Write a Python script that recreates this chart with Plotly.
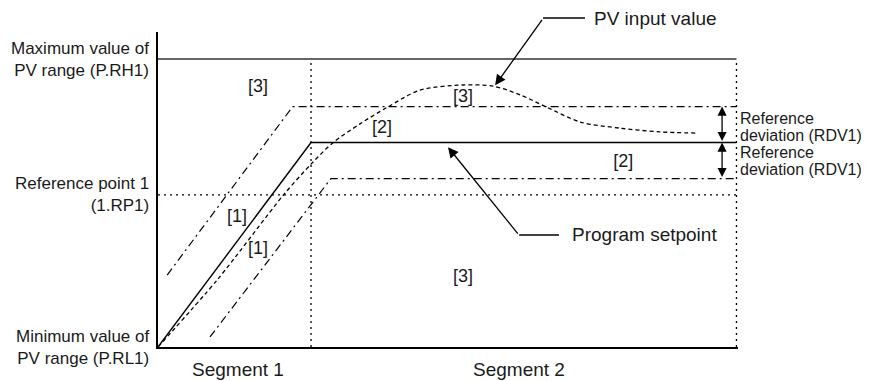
import plotly.graph_objects as go

# time axis (minutes, arbitrary) and PV axis (% of range)
SEGMENT_BOUNDS = [10, 37.8]          # end of segment 1, end of segment 2
SEGMENT_NAMES = ["Segment 1", "Segment 2"]
SEGMENT_CENTERS = [5.2, 23.6]

PV_MAX = 100                          # P.RH1
REF_POINT = 52.8                      # 1.RP1

# program setpoint
SP_T = [0, 10, 37.8]
SP_V = [0, 71, 71]

# setpoint + reference deviation
UPPER_T = [0.6, 8.8, 37.8]
UPPER_V = [25, 83.5, 83.5]

# setpoint - reference deviation
LOWER_T = [3.4, 11.3, 37.8]
LOWER_V = [3.5, 58.5, 58.5]

# PV input value
PV_T = [0, 3.9, 8.2, 10, 11.4, 13.2, 15.0, 17.1, 19.9, 21.9, 23.7, 25.4, 27.6, 30.2, 32.8, 35.2]
PV_V = [0, 23.5, 52.8, 63.5, 70.8, 77.5, 83.3, 89.2, 91.0, 90.6, 87.5, 83.3, 78.1, 76.0, 74.7, 74.3]

# region labels
REGION_TEXT = ["[3]", "[3]", "[2]", "[2]", "[1]", "[1]", "[3]"]
REGION_T = [6.54, 19.93, 14.64, 30.4, 5.16, 6.54, 19.93]
REGION_V = [90.3, 86.8, 76.0, 64.2, 45.1, 33.7, 24.3]

# reference deviation text lines
RDV_LINES = ["Reference", "deviation (RDV1)", "Reference", "deviation (RDV1)"]
RDV_LINE_V = [79.2, 73.3, 67.4, 61.8]

FONT = "Liberation Sans, Arial, sans-serif"
DOT = "2px,4px"
DASHDOT = "8px,4px,2px,4px"

fig = go.Figure()

fig.add_trace(go.Scatter(x=[0, SEGMENT_BOUNDS[1]], y=[PV_MAX, PV_MAX], mode="lines",
                         line=dict(color="#333333", width=1.6)))
fig.add_trace(go.Scatter(x=[0, SEGMENT_BOUNDS[1]], y=[REF_POINT, REF_POINT], mode="lines",
                         line=dict(color="black", width=1.3, dash=DOT)))
for b in SEGMENT_BOUNDS:
    fig.add_trace(go.Scatter(x=[b, b], y=[0, PV_MAX], mode="lines",
                             line=dict(color="black", width=1.3, dash=DOT)))

fig.add_trace(go.Scatter(x=UPPER_T, y=UPPER_V, mode="lines",
                         line=dict(color="black", width=1.2, dash=DASHDOT)))
fig.add_trace(go.Scatter(x=LOWER_T, y=LOWER_V, mode="lines",
                         line=dict(color="black", width=1.2, dash=DASHDOT)))
fig.add_trace(go.Scatter(x=SP_T, y=SP_V, mode="lines",
                         line=dict(color="black", width=1.4)))
fig.add_trace(go.Scatter(x=PV_T, y=PV_V, mode="lines",
                         line=dict(color="black", width=1.3, dash="4px,3px", shape="spline", smoothing=0.8)))

fig.add_trace(go.Scatter(x=REGION_T, y=REGION_V, mode="text", text=REGION_TEXT,
                         textfont=dict(family=FONT, size=18, color="#1a1a1a")))

ann = []
# left side labels
for txt, v in [("Maximum value of<br>PV range (P.RH1)", PV_MAX),
               ("Reference point 1<br>(1.RP1)", REF_POINT),
               ("Minimum value of<br>PV range (P.RL1)", 0)]:
    ann.append(dict(x=0, xref="paper", y=v, yref="y", text=txt, showarrow=False,
                    xanchor="right", yanchor="middle", align="right", xshift=-7,
                    font=dict(family=FONT, size=17, color="#1a1a1a")))
# segment names
for name, c in zip(SEGMENT_NAMES, SEGMENT_CENTERS):
    ann.append(dict(x=c, xref="x", y=0, yref="paper", text=name, showarrow=False,
                    xanchor="center", yanchor="middle", yshift=-22,
                    font=dict(family=FONT, size=19, color="#1a1a1a")))

# PV input value callout
ann.append(dict(x=22.03, y=90.9, xref="x", yref="y", ax=48, ay=-67, text="",
                showarrow=True, arrowhead=2, arrowsize=1.6, arrowwidth=1.3, arrowcolor="black"))
ann.append(dict(x=28.37, xref="x", y=1.0444, yref="paper", text="PV input value", showarrow=False,
                xanchor="left", yanchor="middle", font=dict(family=FONT, size=19, color="#1a1a1a")))
# Program setpoint callout
ann.append(dict(x=18.95, y=69.4, xref="x", yref="y", ax=71, ay=88, text="",
                showarrow=True, arrowhead=2, arrowsize=1.6, arrowwidth=1.3, arrowcolor="black"))
ann.append(dict(x=26.93, xref="x", y=38.9, yref="y", text="Program setpoint", showarrow=False,
                xanchor="left", yanchor="middle", font=dict(family=FONT, size=19, color="#1a1a1a")))

# reference deviation double arrows
for top, bot in [(UPPER_V[-1], SP_V[-1]), (SP_V[-1], LOWER_V[-1])]:
    ann.append(dict(x=36.86, y=top, xref="x", yref="y", ax=36.86, ay=bot, axref="x", ayref="y",
                    text="", showarrow=True, arrowhead=2, arrowside="end+start",
                    arrowsize=1.4, arrowwidth=1.3, arrowcolor="black"))
for txt, v in zip(RDV_LINES, RDV_LINE_V):
    ann.append(dict(x=37.8, xref="x", y=v, yref="y", text=txt,
                    showarrow=False, xanchor="left", yanchor="middle", xshift=2,
                    font=dict(family=FONT, size=16, color="#1a1a1a")))

# the page body adds an 8px offset, so the figure is 8px smaller and margins shifted
fig.update_layout(
    width=861, height=373,
    margin=dict(l=150, r=131, t=24, b=34),
    paper_bgcolor="white", plot_bgcolor="white",
    showlegend=False, hovermode=False,
    annotations=ann,
    shapes=[dict(type="line", xref="x", yref="paper", x0=25.16, x1=27.9, y0=1.0444, y1=1.0444,
                 line=dict(color="black", width=1.3)),
            dict(type="line", xref="x", yref="y", x0=23.6, x1=26.2, y0=38.9, y1=38.9,
                 line=dict(color="black", width=1.3))],
)
axis_style = dict(showgrid=False, zeroline=False, showticklabels=False, ticks="",
                  showline=True, linecolor="black", linewidth=1.6)
fig.update_xaxes(range=[0, 37.9], **axis_style)
fig.update_yaxes(range=[0, 109.4], **axis_style)

fig.write_html("out.html")
